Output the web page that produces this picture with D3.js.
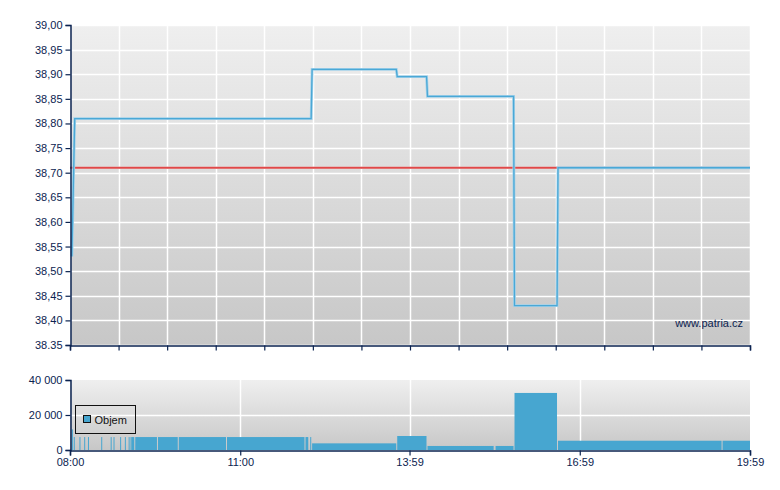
<!DOCTYPE html>
<html><head><meta charset="utf-8">
<script src="https://cdn.jsdelivr.net/npm/d3@7"></script>
<style>
body{margin:0;background:#fff}
svg{display:block}
text{font-family:"Liberation Sans",Arial,sans-serif;font-size:11px}
</style>
</head><body><svg id="c" width="780" height="490"></svg>
<script>
// ---- data ----
const priceTimes  = ["08:02","08:05","12:15","12:16","13:45","13:46","14:17","14:18","15:49","15:50","16:35","16:36","19:59"];
const priceValues = [38.53, 38.81, 38.81, 38.91, 38.91, 38.895, 38.895, 38.855, 38.855, 38.43, 38.43, 38.71, 38.71];
const prevClose = 38.71;
const priceTicks = [38.35,38.40,38.45,38.50,38.55,38.60,38.65,38.70,38.75,38.80,38.85,38.90,38.95,39.00];
const priceTickLabels = ["38.35","38,40","38,45","38,50","38,55","38,60","38,65","38,70","38,75","38,80","38,85","38,90","38,95","39,00"];
const volStart  = ["08:02","08:04","08:10","08:15","08:19","08:33","08:43","08:46","08:53","08:58","09:02","09:04","09:05","09:09","09:33","09:55","10:46","12:09","12:14","12:16","13:46","14:18","15:30","15:50","16:36","19:30"];
const volEnd    = ["08:03","08:05","08:11","08:16","08:20","08:34","08:44","08:47","08:54","08:59","09:03","09:05","09:09","09:33","09:55","10:46","12:09","12:13","12:16","13:46","14:18","15:29","15:50","16:36","19:30","19:59"];
const volValues = [11800,7400,7400,7400,7400,7400,7400,7400,7400,7400,7400,7400,7400,7400,7400,7400,7400,7400,7400,3800,8000,2300,2300,32600,5300,5300];
const volTicks = [0,20000,40000];
const volTickLabels = ["0","20 000","40 000"];
const timeTicks = ["08:00","11:00","13:59","16:59","19:59"];
const timeDomain = ["08:00","19:59"];
const seriesName = "Objem";
const watermark = "www.patria.cz";

// ---- setup ----
const parse = d3.timeParse("%H:%M");
const svg = d3.select("#c");
const navy = "#0b2350";
const L = 70, R = 750;
const x = d3.scaleTime().domain(timeDomain.map(parse)).range([L, R]);
const yP = d3.scaleLinear().domain([38.35, 39.00]).range([345, 25]);
const yV = d3.scaleLinear().domain([0, 40000]).range([450, 380]);

const defs = svg.append("defs");
function grad(id){
  const g = defs.append("linearGradient").attr("id", id).attr("x1",0).attr("y1",0).attr("x2",0).attr("y2",1);
  g.append("stop").attr("offset","0%").attr("stop-color","#efefef");
  g.append("stop").attr("offset","100%").attr("stop-color","#c7c7c7");
}
grad("gP"); grad("gV");

// ---- price panel ----
svg.append("rect").attr("x",L).attr("y",yP.range()[1]).attr("width",R-L).attr("height",yP.range()[0]-yP.range()[1]).attr("fill","url(#gP)");
const t0 = x.domain()[0].getTime(), t1 = x.domain()[1].getTime();
const vGrid = d3.range(15).map(i => new Date(t0 + i*(t1-t0)/14));
svg.append("g").selectAll("line").data(vGrid).join("line")
  .attr("x1", d => Math.round(x(d))+0.5).attr("x2", d => Math.round(x(d))+0.5)
  .attr("y1", yP.range()[1]).attr("y2", yP.range()[0])
  .attr("stroke","#fff").attr("stroke-width",1.5);
svg.append("g").selectAll("line").data(priceTicks).join("line")
  .attr("x1", L).attr("x2", R)
  .attr("y1", d => Math.round(yP(d))+0.5).attr("y2", d => Math.round(yP(d))+0.5)
  .attr("stroke","#fff").attr("stroke-width",1.5);

svg.append("text").attr("x",743).attr("y",327).attr("text-anchor","end").style("fill",navy).text(watermark);

// prev close line
svg.append("line").attr("x1",L).attr("x2",R).attr("y1",yP(prevClose)).attr("y2",yP(prevClose))
  .attr("stroke","#e89a9a").attr("stroke-width",2.6);
svg.append("line").attr("x1",L).attr("x2",R).attr("y1",yP(prevClose)).attr("y2",yP(prevClose))
  .attr("stroke","#e04848").attr("stroke-width",1.3);

// price line
const pts = priceTimes.map((t,i)=>[parse(t), priceValues[i]]);
const line = d3.line().x(d=>x(d[0])).y(d=>yP(d[1]));
svg.append("path").attr("d", line(pts)).attr("fill","none").attr("stroke","#a4d2ea").attr("stroke-width",2.8);
svg.append("path").attr("d", line(pts)).attr("fill","none").attr("stroke","#4aa8d6").attr("stroke-width",1.3);

// axes
function styleAxis(g){
  g.select(".domain").attr("stroke",navy).attr("stroke-width",1.5);
  g.selectAll(".tick line").attr("stroke",navy).attr("stroke-width",1.2);
  g.selectAll(".tick text").style("fill",navy).style("font-size","11px").style("font-family","'Liberation Sans', Arial, sans-serif");
}
const yAxisP = d3.axisLeft(yP).tickValues(priceTicks).tickSize(5).tickPadding(3)
  .tickFormat((d,i)=>priceTickLabels[i]);
styleAxis(svg.append("g").attr("transform",`translate(${L+0.5},0)`).call(yAxisP));
const xAxisP = d3.axisBottom(x).tickValues(vGrid).tickSize(5).tickFormat("");
styleAxis(svg.append("g").attr("transform",`translate(0,${yP.range()[0]+0.5})`).call(xAxisP));

// ---- volume panel ----
svg.append("rect").attr("x",L).attr("y",380).attr("width",R-L).attr("height",70).attr("fill","url(#gV)");
const vt = timeTicks.slice(1,-1).map(parse);
svg.append("g").selectAll("line").data(vt).join("line")
  .attr("x1", d=>Math.round(x(d))+0.5).attr("x2", d=>Math.round(x(d))+0.5)
  .attr("y1",380).attr("y2",450).attr("stroke","#fff").attr("stroke-width",1.5);
svg.append("line").attr("x1",L).attr("x2",R).attr("y1",Math.round(yV(20000))+0.5).attr("y2",Math.round(yV(20000))+0.5)
  .attr("stroke","#fff").attr("stroke-width",1.5);

svg.append("g").selectAll("rect").data(volValues).join("rect")
  .attr("x",(d,i)=>x(parse(volStart[i])))
  .attr("width",(d,i)=>{
    const w = x(parse(volEnd[i])) - x(parse(volStart[i]));
    return i === volValues.length-1 ? w : Math.max(1, w-1);
  })
  .attr("y", d=>yV(d)).attr("height", d=>yV(0)-yV(d))
  .attr("fill","#47a6d0");

// legend
svg.append("rect").attr("x",75.5).attr("y",405.5).attr("width",60).attr("height",28)
  .attr("fill","none").attr("stroke","#111").attr("stroke-width",1);
svg.append("rect").attr("x",83.5).attr("y",415.5).attr("width",7).attr("height",7)
  .attr("fill","#47a6d0").attr("stroke","#111").attr("stroke-width",1);
svg.append("text").attr("x",94.5).attr("y",423.5).style("fill","#111").text(seriesName);

const yAxisV = d3.axisLeft(yV).tickValues(volTicks).tickSize(5).tickPadding(3).tickFormat((d,i)=>volTickLabels[i]);
styleAxis(svg.append("g").attr("transform",`translate(${L+0.5},0)`).call(yAxisV));
const xAxisV = d3.axisBottom(x).tickValues(timeTicks.map(parse)).tickSize(5).tickPadding(3).tickFormat(d3.timeFormat("%H:%M"));
styleAxis(svg.append("g").attr("transform",`translate(0,450.5)`).call(xAxisV));
</script>
</body></html>
